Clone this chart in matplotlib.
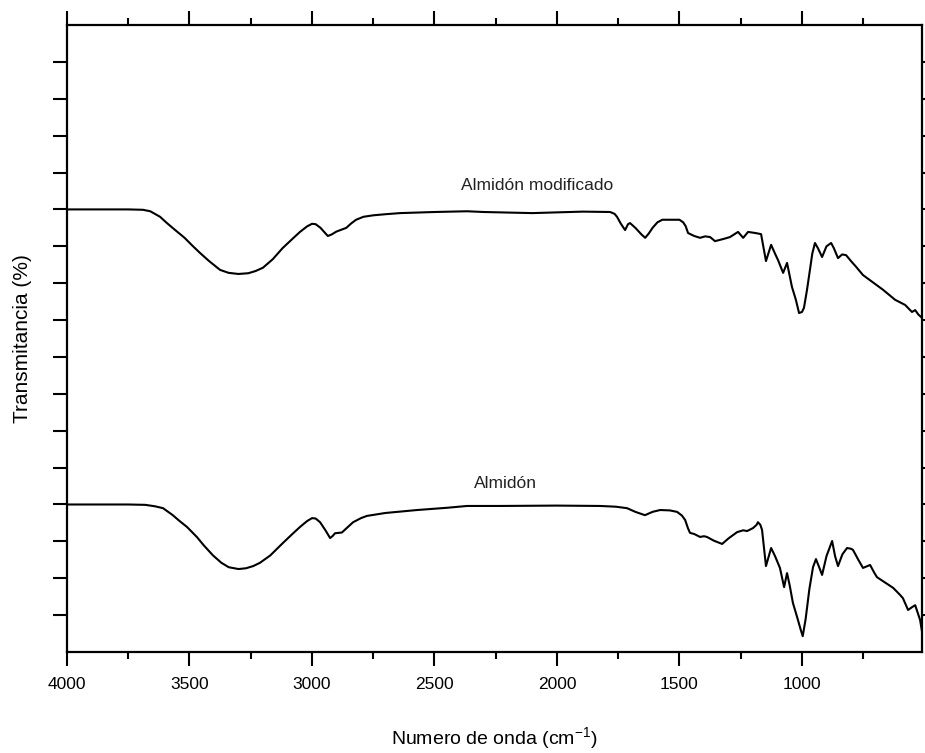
import numpy as np
import matplotlib
matplotlib.use('Agg')
import matplotlib.pyplot as plt
from matplotlib.ticker import MultipleLocator

plt.rcParams['font.family'] = ['Liberation Sans', 'DejaVu Sans']

# Almidon modificado (upper trace), wavenumber / transmittance (arb. units)
wn_mod = [4000, 3750, 3690, 3660, 3620, 3592, 3560, 3520, 3490, 3457, 3420,
          3375, 3340, 3300, 3260, 3230, 3200, 3160, 3120, 3080, 3049, 3020,
          3000, 2985, 2965, 2945, 2935, 2920, 2900, 2880, 2860, 2840, 2820,
          2790, 2750, 2700, 2641, 2500, 2367, 2300, 2100, 2000, 1894, 1783,
          1765, 1755, 1740, 1722, 1710, 1702, 1680, 1655, 1640, 1625, 1610,
          1590, 1570, 1500, 1485, 1475, 1465, 1440, 1416, 1395, 1375, 1355,
          1320, 1294, 1261, 1240, 1220, 1190, 1167, 1147, 1126, 1110, 1098,
          1077, 1061, 1041, 1025, 1012, 1000, 992, 980, 970, 958, 947, 935,
          918, 900, 881, 870, 853, 836, 820, 800, 780, 751, 710, 669, 620,
          579, 560, 551, 538, 525, 510]
t_mod = [12.0, 12.0, 11.99, 11.95, 11.80, 11.63, 11.45, 11.23, 11.03, 10.82,
         10.60, 10.36, 10.28, 10.25, 10.27, 10.33, 10.42, 10.65, 10.95, 11.20,
         11.39, 11.54, 11.61, 11.60, 11.50, 11.35, 11.28, 11.32, 11.40, 11.45,
         11.50, 11.62, 11.72, 11.80, 11.84, 11.87, 11.90, 11.93, 11.95, 11.93,
         11.90, 11.92, 11.94, 11.93, 11.88, 11.80, 11.62, 11.44, 11.60, 11.63,
         11.50, 11.32, 11.23, 11.35, 11.50, 11.65, 11.72, 11.72, 11.65, 11.55,
         11.36, 11.28, 11.23, 11.27, 11.25, 11.14, 11.20, 11.25, 11.39, 11.23,
         11.39, 11.36, 11.33, 10.60, 11.04, 10.80, 10.63, 10.28, 10.55, 9.90,
         9.55, 9.19, 9.22, 9.33, 9.80, 10.25, 10.80, 11.09, 10.95, 10.71,
         11.00, 11.09, 10.95, 10.68, 10.78, 10.76, 10.60, 10.45, 10.22, 10.02,
         9.82, 9.55, 9.41, 9.28, 9.22, 9.27, 9.15, 9.06]

# Almidon (lower trace)
wn_alm = [4000, 3750, 3680, 3640, 3608, 3570, 3540, 3510, 3470, 3440, 3404,
          3370, 3340, 3300, 3270, 3240, 3212, 3170, 3118, 3080, 3049, 3020,
          3000, 2985, 2967, 2945, 2926, 2915, 2906, 2878, 2860, 2832, 2800,
          2776, 2700, 2571, 2450, 2367, 2233, 2000, 1824, 1760, 1714, 1680,
          1641, 1610, 1579, 1540, 1510, 1490, 1477, 1465, 1457, 1440, 1416,
          1400, 1388, 1360, 1326, 1300, 1265, 1240, 1224, 1200, 1185, 1180,
          1170, 1163, 1147, 1126, 1110, 1090, 1073, 1061, 1050, 1037, 1020,
          1005, 997, 985, 970, 955, 943, 930, 918, 900, 877, 865, 853, 835,
          816, 800, 792, 770, 751, 722, 705, 694, 660, 628, 600, 588, 567,
          550, 538, 518, 510, 506]
t_alm = [4.0, 4.0, 3.99, 3.95, 3.90, 3.72, 3.55, 3.39, 3.12, 2.88, 2.62,
         2.42, 2.30, 2.25, 2.27, 2.33, 2.42, 2.62, 2.96, 3.20, 3.39, 3.55,
         3.63, 3.62, 3.52, 3.30, 3.09, 3.15, 3.22, 3.24, 3.35, 3.52, 3.63,
         3.69, 3.77, 3.85, 3.91, 3.96, 3.96, 3.97, 3.96, 3.94, 3.90, 3.80,
         3.71, 3.80, 3.85, 3.84, 3.80, 3.70, 3.58, 3.35, 3.23, 3.20, 3.12,
         3.14, 3.12, 3.02, 2.93, 3.08, 3.25, 3.30, 3.28, 3.36, 3.45, 3.52,
         3.45, 3.31, 2.33, 2.82, 2.60, 2.28, 1.76, 2.14, 1.80, 1.33, 0.95,
         0.60, 0.43, 0.90, 1.70, 2.30, 2.52, 2.30, 2.09, 2.60, 3.01, 2.60,
         2.33, 2.65, 2.82, 2.80, 2.77, 2.50, 2.28, 2.36, 2.15, 2.03, 1.88,
         1.74, 1.55, 1.46, 1.14, 1.22, 1.27, 0.87, 0.55, 0.41]

labels = ['Almidón modificado', 'Almidón']
label_pos = [(2081, 12.66), (2212, 4.58)]

fig = plt.figure(figsize=(9.25, 7.53), dpi=100)
ax = fig.add_axes([0.0724, 0.1341, 0.9244, 0.8327])

ax.plot(wn_mod, t_mod, color='black', lw=1.5, solid_joinstyle='round')
ax.plot(wn_alm, t_alm, color='black', lw=1.5, solid_joinstyle='round')

for txt, (x, y) in zip(labels, label_pos):
    ax.text(x, y, txt, ha='center', va='center', fontsize=12.5, color='#222222')

ax.set_xlim(4000, 510)
ax.set_ylim(0, 17)
ax.xaxis.set_minor_locator(MultipleLocator(250))
ax.set_xticks([4000, 3500, 3000, 2500, 2000, 1500, 1000])
ax.set_yticks(np.arange(1, 17))
ax.set_yticklabels([])

ax.tick_params(axis='x', which='major', direction='out', length=10, width=1.5,
               top=True, labelsize=12.5, pad=8)
ax.tick_params(axis='x', which='minor', direction='out', length=5, width=1.5,
               top=True)
ax.tick_params(axis='y', which='major', direction='out', length=10, width=1.5,
               right=True)
for s in ax.spines.values():
    s.set_linewidth(1.6)

ax.set_xlabel('Numero de onda (cm$^{\\mathregular{-1}}$)', fontsize=14, labelpad=24)
ax.set_ylabel('Transmitancia (%)', fontsize=15, labelpad=12)

fig.savefig('out.png', dpi=100)
